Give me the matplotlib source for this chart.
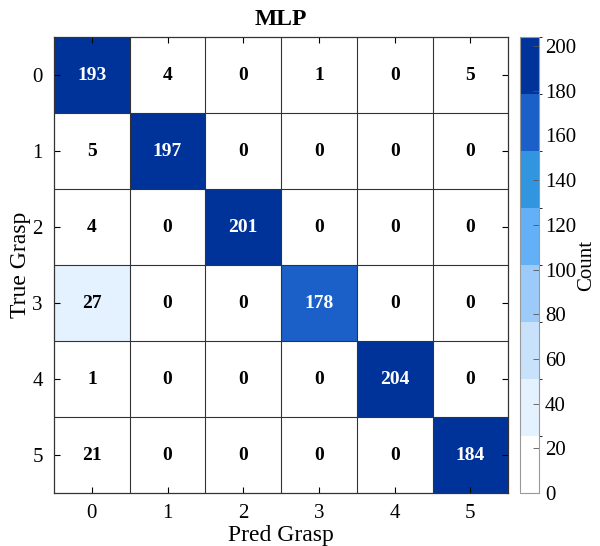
import numpy as np
import matplotlib
matplotlib.use('Agg')
import matplotlib.pyplot as plt
from matplotlib.colors import ListedColormap, BoundaryNorm

plt.rcParams['font.family'] = ['Liberation Serif', 'DejaVu Serif']

labels = ['0', '1', '2', '3', '4', '5']
cm = np.array([
	[193, 4, 0, 1, 0, 5],
	[5, 197, 0, 0, 0, 0],
	[4, 0, 201, 0, 0, 0],
	[27, 0, 0, 178, 0, 0],
	[1, 0, 0, 0, 204, 0],
	[21, 0, 0, 0, 0, 184],
])

# 8-step blue scale, matlab style
colors = ['#ffffff', '#e4f1fe', '#c8e2fc', '#9dcbf9', '#64b0f7',
		  '#3195e0', '#1a60c8', '#003399']
cmap = ListedColormap(colors)
vmax = cm.max()
bounds = np.linspace(0, vmax, len(colors) + 1)
norm = BoundaryNorm(bounds, cmap.N)

fig = plt.figure(figsize=(6, 5.46), dpi=100)
ax = fig.add_axes([0.09, 0.097, 0.757, 0.835])
cax = fig.add_axes([0.867, 0.097, 0.032, 0.835])

n = len(labels)
im = ax.imshow(cm, cmap=cmap, norm=norm, aspect='auto',
			   extent=(-0.5, n - 0.5, n - 0.5, -0.5))

# cell borders
for k in range(1, n):
	ax.axhline(k - 0.5, color='#333333', lw=0.8)
	ax.axvline(k - 0.5, color='#333333', lw=0.8)

for i in range(n):
	for j in range(n):
		v = cm[i, j]
		c = 'white' if v > 150 else 'black'
		ax.text(j, i, str(v), ha='center', va='center', color=c,
				fontsize=14, fontweight='bold')

ax.set_xticks(range(n))
ax.set_yticks(range(n))
ax.set_xticklabels(labels, fontsize=15)
ax.set_yticklabels(labels, fontsize=15)
ax.tick_params(direction='in', top=True, right=True, length=4, width=0.8, pad=8)
ax.set_xlabel('Pred Grasp', fontsize=17, labelpad=1)
ax.set_ylabel('True Grasp', fontsize=17, labelpad=1)
ax.set_title('MLP', fontsize=17, fontweight='bold', pad=9)
for s in ax.spines.values():
	s.set_color('#333333')
	s.set_linewidth(0.9)

cb = fig.colorbar(im, cax=cax, ticks=np.arange(0, 201, 20))
cb.ax.tick_params(labelsize=15, direction='in', length=4, width=0.6, color='#555555', pad=4)
cb.set_label('Count', fontsize=15, labelpad=1)
cb.outline.set_edgecolor('#999999')
cb.outline.set_linewidth(0.8)

fig.savefig('out.png', dpi=100)
